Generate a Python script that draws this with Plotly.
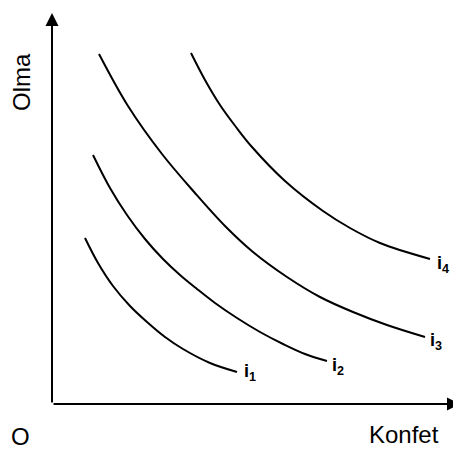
import plotly.graph_objects as go

# Indifference curves (Konfet on x, Olma on y)
i1_x = [3.3, 4.6, 6.1, 7.8, 9.5, 11.3, 13.1, 15.8, 18.5]
i1_y = [16.6, 14.1, 11.8, 9.8, 8.2, 6.7, 5.5, 4.1, 3.2]

i2_x = [4.1, 5.8, 7.5, 9.3, 11.1, 12.8, 14.5, 16.3, 18.5, 20.8, 23.1, 25.3, 27.5]
i2_y = [24.9, 21.6, 18.9, 16.5, 14.5, 12.9, 11.5, 10.1, 8.6, 7.2, 6.0, 5.0, 4.3]

i3_x = [4.7, 7.6, 11.0, 14.3, 17.3, 20.1, 23.5, 26.8, 30.1, 33.5, 37.3]
i3_y = [35.0, 29.8, 25.0, 21.1, 17.8, 15.2, 12.7, 10.7, 9.2, 7.9, 6.7]

i4_x = [13.9, 15.3, 16.8, 18.4, 20.0, 23.3, 27.1, 29.8, 32.8, 37.8]
i4_y = [35.1, 32.4, 29.9, 27.7, 25.7, 22.3, 19.3, 17.6, 16.1, 14.5]

curves = [(i1_x, i1_y), (i2_x, i2_y), (i3_x, i3_y), (i4_x, i4_y)]
curve_labels = ["<b>i</b><sub><b>1</b></sub>", "<b>i</b><sub><b>2</b></sub>",
                "<b>i</b><sub><b>3</b></sub>", "<b>i</b><sub><b>4</b></sub>"]
label_pos = [(19.8, 3.2), (28.6, 3.8), (38.4, 6.3), (39.1, 14.0)]

x_label = "Konfet"
y_label = "Olma"
origin_label = "O"

fig = go.Figure()
for cx, cy in curves:
    fig.add_trace(go.Scatter(x=cx, y=cy, mode="lines",
                             line=dict(color="black", width=2, shape="spline", smoothing=1.0),
                             hoverinfo="skip", showlegend=False))

# axes with arrows
fig.add_annotation(x=0, y=39.1, ax=0, ay=0, xref="x", yref="y", axref="x", ayref="y",
                   showarrow=True, arrowhead=2, arrowsize=1.3, arrowwidth=2, arrowcolor="black", text="")
fig.add_annotation(x=40.8, y=0, ax=0, ay=0, xref="x", yref="y", axref="x", ayref="y",
                   showarrow=True, arrowhead=2, arrowsize=1.3, arrowwidth=2, arrowcolor="black", text="")

for (lx, ly), t in zip(label_pos, curve_labels):
    fig.add_annotation(x=lx, y=ly, text=t, showarrow=False, xanchor="center", yanchor="middle",
                       font=dict(family="Liberation Sans, Arial", size=18, color="black"))

fig.add_annotation(x=-3.1, y=32.2, text=y_label, textangle=-90, showarrow=False,
                   xanchor="center", yanchor="middle",
                   font=dict(family="Liberation Sans, Arial", size=24, color="black"))
fig.add_annotation(x=35.2, y=-3.0, text=x_label, showarrow=False,
                   xanchor="center", yanchor="middle",
                   font=dict(family="Liberation Sans, Arial", size=24, color="black"))
fig.add_annotation(x=-3.2, y=-3.2, text=origin_label, showarrow=False,
                   xanchor="center", yanchor="middle",
                   font=dict(family="Liberation Sans, Arial", size=24, color="black"))

# the page body has an 8px margin, so the figure is 8px smaller and its ranges start 8px in
fig.update_layout(width=453, height=441, margin=dict(l=0, r=0, t=0, b=0),
                  paper_bgcolor="white", plot_bgcolor="white",
                  xaxis=dict(range=[-4.4, 40.9], visible=False, fixedrange=True),
                  yaxis=dict(range=[-4.5, 39.6], visible=False, fixedrange=True))

fig.write_html("out.html")
